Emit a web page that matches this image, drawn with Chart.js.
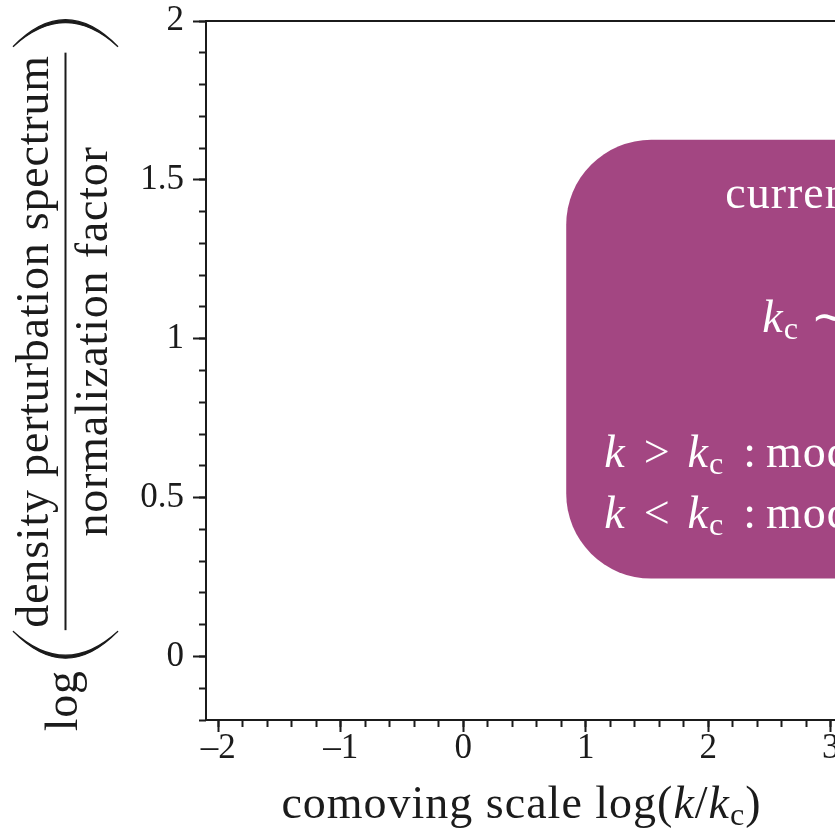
<!DOCTYPE html>
<html>
<head>
<meta charset="utf-8">
<script src="https://cdn.jsdelivr.net/npm/chart.js@4"></script>
<style>
  html, body { margin: 0; padding: 0; background: #fff; overflow: hidden; }
</style>
</head>
<body>
<canvas id="chart" width="860" height="829"></canvas>
<script>
const xRange = [-2.1, 3.05];
const yRange = [-0.2, 2];
const xMajorTicks = [-2, -1, 0, 1, 2, 3];
const xMinorTicks = [-2, -1.8, -1.6, -1.4, -1.2, -1, -0.8, -0.6, -0.4, -0.2, 0, 0.2, 0.4, 0.6, 0.8,
  1, 1.2, 1.4, 1.6, 1.8, 2, 2.2, 2.4, 2.6, 2.8, 3];
const yMajorTicks = [0, 0.5, 1, 1.5, 2];
const yMinorTicks = [-0.2, -0.1, 0, 0.1, 0.2, 0.3, 0.4, 0.5, 0.6, 0.7, 0.8, 0.9, 1,
  1.1, 1.2, 1.3, 1.4, 1.5, 1.6, 1.7, 1.8, 1.9, 2];

// annotation box (data coordinates)
const boxX = [0.84, 4.2];
const boxY = [0.245, 1.626];

const INK = "#1b1b1b";
const BOX_COLOR = "#a34682";
const FONT = "'Liberation Serif', 'Times New Roman', serif";
const SIZE = 46;       // titles and box text
const TICK_SIZE = 35;  // tick labels

// text runs: it = italic, sub = subscript, gap = extra space in px
const boxLines = [
  [{ t: "current horizon scale" }],
  [{ t: "k", it: 1 }, { t: "c", sub: 1 }, { t: " \u223C " }, { t: "a", it: 1 }, { t: "0", sub: 1 }, { t: "H", it: 1 }, { t: "0", sub: 1 }],
  [{ t: "k", it: 1 }, { gap: 18 }, { t: ">" }, { gap: 17 }, { t: "k", it: 1 }, { t: "c", sub: 1 }, { gap: 19 }, { t: ":" }, { gap: 9 }, { t: "modes inside horizon" }],
  [{ t: "k", it: 1 }, { gap: 18 }, { t: "<" }, { gap: 17 }, { t: "k", it: 1 }, { t: "c", sub: 1 }, { gap: 19 }, { t: ":" }, { gap: 9 }, { t: "modes outside horizon" }],
];
const xTitle = [{ t: "comoving scale log(" }, { t: "k", it: 1 }, { t: "/" }, { t: "k", it: 1 }, { t: "c", sub: 1 }, { t: ")" }];
const yTitleLog = "log";
const yTitleNum = "density perturbation spectrum";
const yTitleDen = "normalization factor";

function setFont(ctx, run, size) {
  const fs = run.sub ? size * 0.7 : size;
  ctx.font = `${run.it ? "italic " : ""}${fs}px ${FONT}`;
}

function runWidth(ctx, r, size) {
  if (r.gap) return r.gap;
  setFont(ctx, r, size);
  return ctx.measureText(r.t).width;
}

function runsWidth(ctx, runs, size) {
  return runs.reduce((w, r) => w + runWidth(ctx, r, size), 0);
}

function drawRuns(ctx, runs, x, y, size) {
  ctx.textAlign = "left";
  ctx.textBaseline = "alphabetic";
  for (const r of runs) {
    const w = runWidth(ctx, r, size);
    if (!r.gap) ctx.fillText(r.t, x, y + (r.sub ? size * 0.16 : 0));
    x += w;
  }
}

// big parenthesis in a frame where u runs along the text, v across it
function bigParen(ctx, uMid, uEnd, v0, v1) {
  const vm = (v0 + v1) / 2;
  const thick = (uEnd > uMid ? 1 : -1) * 3;
  ctx.beginPath();
  ctx.moveTo(uEnd, v0);
  ctx.quadraticCurveTo(2 * uMid - uEnd, vm, uEnd, v1);
  ctx.quadraticCurveTo(2 * (uMid + thick) - uEnd, vm, uEnd, v0);
  ctx.closePath();
  ctx.fill();
  ctx.lineWidth = 1.3;
  ctx.stroke();
}

const decorations = {
  id: "decorations",
  beforeDatasetsDraw(chart) {
    const { ctx, chartArea: area, scales } = chart;
    const left = scales.x.getPixelForValue(boxX[0]);
    const right = scales.x.getPixelForValue(boxX[1]);
    const top = scales.y.getPixelForValue(boxY[1]);
    const bottom = scales.y.getPixelForValue(boxY[0]);
    ctx.save();
    ctx.beginPath();
    ctx.rect(area.left, area.top, area.right - area.left, area.bottom - area.top);
    ctx.clip();
    ctx.fillStyle = BOX_COLOR;
    ctx.beginPath();
    ctx.roundRect(left, top, right - left, bottom - top, 85);
    ctx.fill();
    ctx.fillStyle = "#fff";
    ctx.letterSpacing = "1px";
    drawRuns(ctx, boxLines[0], left + 159, top + 68, SIZE);
    drawRuns(ctx, boxLines[1], left + 196, top + 192, SIZE);
    drawRuns(ctx, boxLines[2], left + 38, top + 327, SIZE);
    drawRuns(ctx, boxLines[3], left + 38, top + 388, SIZE);
    ctx.restore();
  },
  afterDraw(chart) {
    const { ctx, chartArea: area } = chart;
    ctx.save();
    ctx.strokeStyle = INK;
    ctx.fillStyle = INK;
    // top and right frame
    ctx.lineWidth = 2;
    ctx.beginPath();
    ctx.moveTo(area.left - 1, area.top);
    ctx.lineTo(area.right, area.top);
    ctx.lineTo(area.right, area.bottom);
    ctx.stroke();

    // x title
    ctx.letterSpacing = "1px";
    const xw = runsWidth(ctx, xTitle, SIZE);
    drawRuns(ctx, xTitle, (area.left + area.right) / 2 - xw / 2, 818, SIZE);

    // y title, rotated
    ctx.letterSpacing = "0.8px";
    const cy = (area.top + area.bottom) / 2 + 5;
    ctx.translate(0, cy);
    ctx.rotate(-Math.PI / 2);
    ctx.font = `${SIZE}px ${FONT}`;
    const logW = ctx.measureText(yTitleLog).width;
    const numW = ctx.measureText(yTitleNum).width;
    const denW = ctx.measureText(yTitleDen).width;
    const fracW = Math.max(numW, denW) + 5;
    const total = logW + 12 + 27 + 1 + fracW + 6 + 27;
    let u = -total / 2;
    ctx.textBaseline = "alphabetic";
    ctx.textAlign = "left";
    ctx.fillText(yTitleLog, u, 77);
    u += logW + 12;
    bigParen(ctx, u, u + 27, 13, 118);
    u += 27 + 1;
    ctx.fillRect(u, 64.5, fracW, 2);
    ctx.textAlign = "center";
    ctx.fillText(yTitleNum, u + fracW / 2, 48);
    ctx.fillText(yTitleDen, u + fracW / 2, 107);
    u += fracW + 6;
    bigParen(ctx, u + 27, u, 13, 118);
    ctx.restore();
  },
};

function tickLabel(v) {
  return v < 0 ? "\u2013" + Math.abs(v) : String(v);
}

const tickFont = { family: FONT, size: TICK_SIZE, lineHeight: 1 };

new Chart(document.getElementById("chart"), {
  type: "scatter",
  data: { datasets: [{ data: [] }] },
  options: {
    responsive: false,
    animation: false,
    devicePixelRatio: 1,
    layout: { padding: { left: 0, top: 21, right: 23, bottom: 0 } },
    plugins: { legend: { display: false }, tooltip: { enabled: false } },
    scales: {
      x: {
        type: "linear", position: "bottom", min: xRange[0], max: xRange[1], weight: 0,
        afterBuildTicks: s => { s.ticks = xMajorTicks.map(v => ({ value: v })); },
        afterFit: s => { s.height = 109; s.paddingLeft = 0; s.paddingRight = 0; },
        grid: { drawOnChartArea: false, drawTicks: true, tickLength: 12, tickWidth: 2, tickColor: INK },
        border: { display: true, color: INK, width: 2 },
        ticks: { color: INK, font: tickFont, padding: -1, maxRotation: 0, autoSkip: false, callback: tickLabel },
      },
      xMinor: {
        type: "linear", position: "bottom", min: xRange[0], max: xRange[1], weight: -1,
        afterBuildTicks: s => { s.ticks = xMinorTicks.map(v => ({ value: v })); },
        afterFit: s => { s.height = 0; s.paddingLeft = 0; s.paddingRight = 0; },
        grid: { drawOnChartArea: false, drawTicks: true, tickLength: 7, tickWidth: 2, tickColor: INK },
        border: { display: false },
        ticks: { display: false },
      },
      y: {
        type: "linear", position: "left", min: yRange[0], max: yRange[1], weight: 0,
        afterBuildTicks: s => { s.ticks = yMajorTicks.map(v => ({ value: v })); },
        afterFit: s => { s.width = 206; s.paddingTop = 0; s.paddingBottom = 0; },
        grid: { drawOnChartArea: false, drawTicks: true, tickLength: 13, tickWidth: 2, tickColor: INK },
        border: { display: true, color: INK, width: 2 },
        ticks: { color: INK, font: tickFont, padding: 9, autoSkip: false, callback: tickLabel },
      },
      yMinor: {
        type: "linear", position: "left", min: yRange[0], max: yRange[1], weight: -1,
        afterBuildTicks: s => { s.ticks = yMinorTicks.map(v => ({ value: v })); },
        afterFit: s => { s.width = 0; s.paddingTop = 0; s.paddingBottom = 0; },
        grid: { drawOnChartArea: false, drawTicks: true, tickLength: 7, tickWidth: 2, tickColor: INK },
        border: { display: false },
        ticks: { display: false },
      },
    },
  },
  plugins: [decorations],
});
</script>
</body>
</html>
